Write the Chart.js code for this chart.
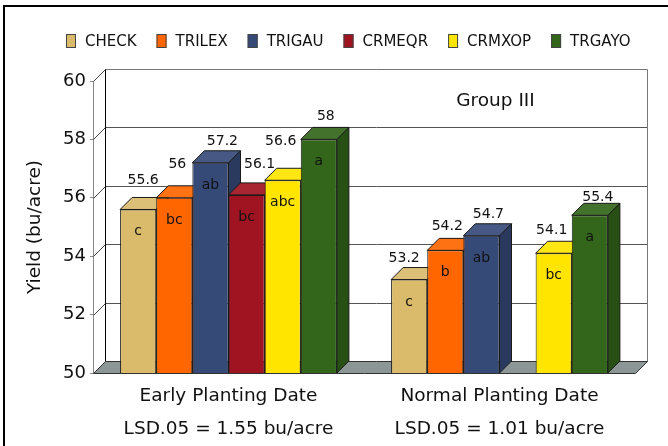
<!DOCTYPE html>
<html>
<head>
<meta charset="utf-8">
<script src="https://cdn.jsdelivr.net/npm/chart.js@4/dist/chart.umd.min.js"></script>
<style>
  html, body { margin: 0; padding: 0; background: #fff; }
  #wrap { width: 668px; height: 446px; position: relative; }
</style>
</head>
<body>
<div id="wrap"><canvas id="yieldChart" width="668" height="446"></canvas></div>
<script>
// Planting-date groups and their LSD notes
const categories = ['Early Planting Date', 'Normal Planting Date'];
const lsdNotes = ['LSD.05 = 1.55 bu/acre', 'LSD.05 = 1.01 bu/acre'];

// Treatments
const seriesNames = ['CHECK', 'TRILEX', 'TRIGAU', 'CRMEQR', 'CRMXOP', 'TRGAYO'];
const seriesColors = ['#D9BB6B', '#FF6600', '#364A78', '#A01320', '#FFE500', '#33661A'];

// Yield, bu/acre (CRMEQR not in the normal-date trial)
const checkYield  = [55.6, 53.2];
const trilexYield = [56,   54.2];
const trigauYield = [57.2, 54.7];
const crmeqrYield = [56.1, null];
const crmxopYield = [56.6, 54.1];
const trgayoYield = [58,   55.4];

// Mean separation letters
const checkLetters  = ['c',   'c'];
const trilexLetters = ['bc',  'b'];
const trigauLetters = ['ab',  'ab'];
const crmeqrLetters = ['bc',  null];
const crmxopLetters = ['abc', 'bc'];
const trgayoLetters = ['a',   'a'];

// Y axis ticks
const yTickValues = [50, 52, 54, 56, 58, 60];

const panelTitle = 'Group III';

const seriesValues = [checkYield, trilexYield, trigauYield, crmeqrYield, crmxopYield, trgayoYield];
const seriesLetters = [checkLetters, trilexLetters, trigauLetters, crmeqrLetters, crmxopLetters, trgayoLetters];

// small per-label shifts [dx, dy] keeping value labels clear of neighbours
const valueLabelShift = [
  [[-1, -7], [-11, 0]],
  [[-3, -12], [-4, -2]],
  [[6, 0], [1, 0]],
  [[7, -9], [0, 0]],
  [[-8, -17], [-8, -1]],
  [[1, -1], [2, 4]]
];

const FONT = '"DejaVu Sans", Verdana, sans-serif';
const INK = '#111';
const EDGE = '#1a1a1a';
const DX = 12, DY = 12; // depth of the 3-D projection

function shade(hex, f) {
  const n = parseInt(hex.slice(1), 16);
  const r = (n >> 16) & 255, g = (n >> 8) & 255, b = n & 255;
  const m = c => f >= 0 ? Math.round(c + (255 - c) * f) : Math.round(c * (1 + f));
  return `rgb(${m(r)},${m(g)},${m(b)})`;
}

function poly(ctx, pts, fill, stroke) {
  ctx.beginPath();
  ctx.moveTo(pts[0][0], pts[0][1]);
  for (let i = 1; i < pts.length; i++) ctx.lineTo(pts[i][0], pts[i][1]);
  ctx.closePath();
  if (fill) { ctx.fillStyle = fill; ctx.fill(); }
  if (stroke) { ctx.strokeStyle = stroke; ctx.stroke(); }
}

function seg(ctx, x1, y1, x2, y2, color) {
  ctx.beginPath();
  ctx.moveTo(x1, y1);
  ctx.lineTo(x2, y2);
  ctx.strokeStyle = color;
  ctx.stroke();
}

// Draws the frame, legend, walls, floor, 3-D faces of the bars and all labels
const box3d = {
  id: 'box3d',
  beforeDraw(chart) {
    const ctx = chart.ctx;
    ctx.save();
    ctx.fillStyle = '#fff';
    ctx.fillRect(0, 0, chart.width, chart.height);
    ctx.strokeStyle = '#000';
    ctx.lineWidth = 2;
    ctx.strokeRect(4, 6, chart.width + 20, chart.height + 20);

    // legend
    ctx.font = `15px ${FONT}`;
    ctx.textBaseline = 'middle';
    ctx.textAlign = 'left';
    ctx.lineWidth = 1;
    let lx = 66;
    const ly = 41;
    chart.data.datasets.forEach(ds => {
      ctx.fillStyle = ds.backgroundColor;
      ctx.fillRect(lx, ly - 7, 10, 14);
      ctx.strokeStyle = '#444';
      ctx.strokeRect(lx + 0.5, ly - 6.5, 9, 13);
      ctx.fillStyle = INK;
      ctx.fillText(ds.label, lx + 19, ly + 1);
      lx += 19 + ctx.measureText(ds.label).width + 20;
    });
    ctx.restore();
  },
  beforeDatasetsDraw(chart) {
    const { ctx, chartArea: a, scales: { x, y } } = chart;
    const L = Math.round(a.left) + 0.5, R = Math.round(a.right) + 0.5;
    const yMin = y.getPixelForValue(y.min), yMax = y.getPixelForValue(y.max);
    ctx.save();
    ctx.lineWidth = 1;

    // back wall gridlines
    y.ticks.forEach(t => {
      if (t.value === y.min) return;
      const py = Math.round(y.getPixelForValue(t.value)) + 0.5;
      seg(ctx, L + DX, py - DY, R + DX, py - DY, t.value === y.max ? '#777' : '#555');
    });
    // side-wall diagonals at each tick
    y.ticks.forEach(t => {
      const py = Math.round(y.getPixelForValue(t.value)) + 0.5;
      seg(ctx, L, py, L + DX, py - DY, '#444');
    });
    // wall edges
    seg(ctx, L + DX, Math.round(yMax) + 0.5 - DY, L + DX, Math.round(yMin) + 0.5 - DY, '#000');
    seg(ctx, R + DX, Math.round(yMax) + 0.5 - DY, R + DX, Math.round(yMin) + 0.5 - DY, '#777');

    // floor
    const fy = Math.round(yMin) + 0.5;
    poly(ctx, [[L, fy], [R, fy], [R + DX, fy - DY], [L + DX, fy - DY]], '#8C9696', '#333');

    // top and side faces, left to right
    const metas = chart.data.datasets.map((d, i) => chart.getDatasetMeta(i));
    for (let ci = 0; ci < categories.length; ci++) {
      metas.forEach((meta, di) => {
        const v = chart.data.datasets[di].data[ci];
        if (v === null || v === undefined) return;
        const el = meta.data[ci];
        const p = el.getProps(['x', 'y', 'base', 'width'], true);
        const l = p.x - p.width / 2, r = p.x + p.width / 2, t = p.y;
        const b = Math.min(p.base, yMin);
        const col = seriesColors[di];
        poly(ctx, [[r, t], [r + DX, t - DY], [r + DX, b - DY], [r, b]], shade(col, -0.22), EDGE);
        poly(ctx, [[l, t], [r, t], [r + DX, t - DY], [l + DX, t - DY]], shade(col, 0.08), EDGE);
      });
    }
    ctx.restore();
  },
  afterDatasetsDraw(chart) {
    const { ctx, chartArea: a, scales: { x, y } } = chart;
    ctx.save();
    ctx.fillStyle = INK;
    ctx.textAlign = 'center';
    ctx.textBaseline = 'alphabetic';
    chart.data.datasets.forEach((ds, di) => {
      const meta = chart.getDatasetMeta(di);
      ds.data.forEach((v, ci) => {
        if (v === null || v === undefined) return;
        const p = meta.data[ci].getProps(['x', 'y'], true);
        const [sx, sy] = valueLabelShift[di][ci];
        ctx.font = `14px ${FONT}`;
        ctx.fillText(String(v), p.x + DX / 2 + sx, p.y - DY - 6 + sy);
        const letter = seriesLetters[di][ci];
        if (letter) ctx.fillText(letter, p.x, p.y + 26);
      });
    });
    // panel title on the back wall
    ctx.font = `18.5px ${FONT}`;
    ctx.textBaseline = 'middle';
    ctx.fillText(panelTitle, x.getPixelForValue(1) - 4, a.top + 20);
    ctx.restore();
  }
};

new Chart(document.getElementById('yieldChart'), {
  type: 'bar',
  data: {
    labels: categories.map((c, i) => [c, lsdNotes[i]]),
    datasets: seriesNames.map((name, i) => ({
      label: name,
      data: seriesValues[i],
      backgroundColor: seriesColors[i],
      borderColor: EDGE,
      borderWidth: 1,
      borderSkipped: false,
      categoryPercentage: 0.8,
      barPercentage: 1.0
    }))
  },
  options: {
    responsive: false,
    animation: false,
    devicePixelRatio: 1,
    layout: { padding: { top: 81, right: 33, left: 0, bottom: 0 } },
    plugins: { legend: { display: false }, tooltip: { enabled: false } },
    scales: {
      x: {
        grid: { display: false, drawTicks: false },
        border: { display: false },
        ticks: {
          color: INK,
          padding: 7,
          font: { family: FONT, size: 18.5, lineHeight: 33 / 18.5 }
        },
        afterFit(scale) { scale.height = 73; }
      },
      y: {
        min: 50,
        max: 60,
        afterBuildTicks(scale) { scale.ticks = yTickValues.map(v => ({ value: v })); },
        grid: { display: true, drawOnChartArea: false, drawTicks: true, tickLength: 3, color: '#888' },
        border: { display: true, color: '#888', width: 1 },
        ticks: { color: INK, padding: 4, font: { family: FONT, size: 18 } },
        title: {
          display: true,
          text: 'Yield (bu/acre)',
          color: INK,
          padding: { top: 24, bottom: 0 },
          font: { family: FONT, size: 18.5 }
        },
        afterFit(scale) { scale.width = 93; }
      }
    }
  },
  plugins: [box3d]
});
</script>
</body>
</html>
